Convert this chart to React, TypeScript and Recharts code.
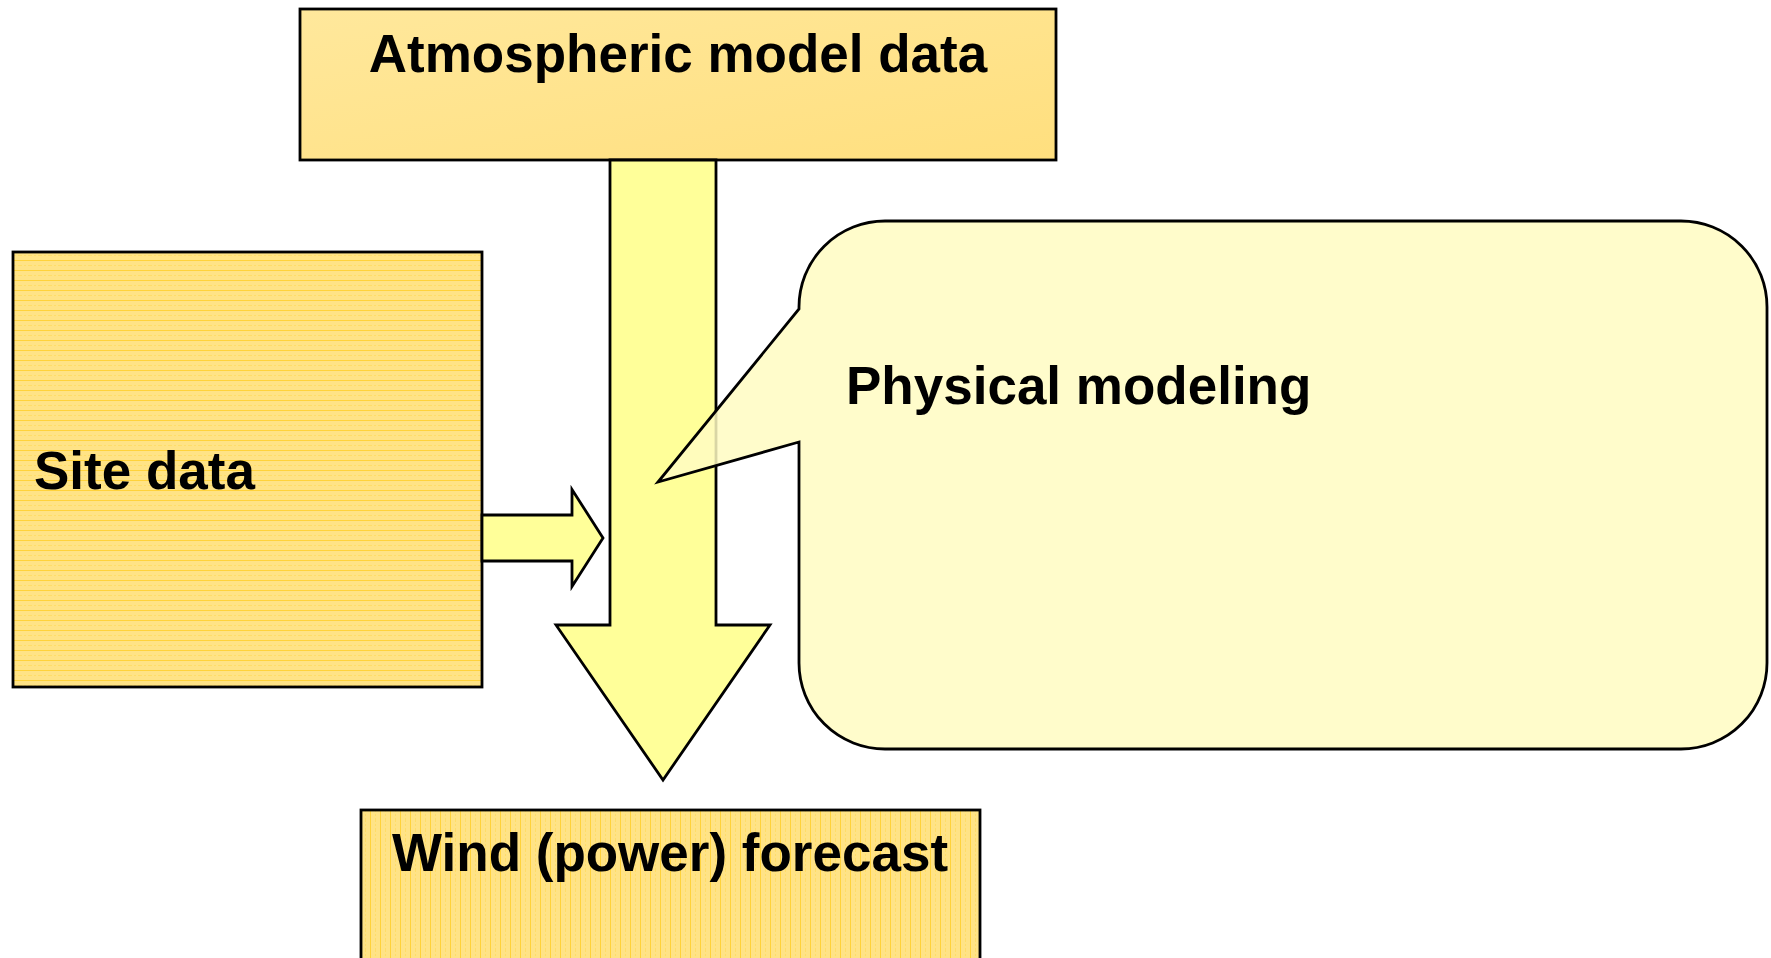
import React from 'react';
import { ComposedChart, XAxis, YAxis, ReferenceArea, Scatter } from 'recharts';

// Flow diagram drawn on a hidden 1771 x 958 number grid (y runs downward).
const WIDTH = 1771;
const HEIGHT = 958;

// boxes
const boxNames = ['top', 'site', 'forecast'];
const boxX1 = [300, 13, 361];
const boxX2 = [1056, 482, 980];
const boxY1 = [9, 252, 810];
const boxY2 = [160, 687, 1000]; // forecast box runs off the page

// arrows: tail point, head tip, shaft width, head width, head length
const arrowNames = ['down', 'right'];
const arrowFromX = [663, 482];
const arrowFromY = [160, 538];
const arrowToX = [663, 603];
const arrowToY = [780, 538];
const arrowShaft = [106, 46];
const arrowHead = [214, 97];
const arrowHeadLen = [155, 31];

// callout: rounded body plus the pointer tail
const calloutX1 = 799;
const calloutX2 = 1767;
const calloutY1 = 221;
const calloutY2 = 749;
const calloutRadius = 86;
const tailTopY = 309;
const tailBottomY = 442;
const tailTipX = 658;
const tailTipY = 482;

// labels
const labelTexts = ['Atmospheric model data', 'Site data', 'Physical modeling', 'Wind (power) forecast'];
const labelX = [678, 34, 846, 670];
const labelY = [72, 489, 404, 871];
const labelAnchor = ['middle', 'start', 'start', 'middle'];

const labels = labelTexts.map((text, i) => ({ x: labelX[i], y: labelY[i], text, anchor: labelAnchor[i] }));

const boxFill: Record<string, string> = {
  top: 'url(#grad-top)',
  site: 'url(#stripe-h)',
  forecast: 'url(#stripe-v)',
};

const FONT = '"Liberation Sans", Arial, Helvetica, sans-serif';
const STROKE = 2.8;

// map data units inside a reference area to pixels
function mapper(p: any, bx1: number, bx2: number, by1: number, by2: number) {
  const sx = p.width / (bx2 - bx1);
  const sy = p.height / (by2 - by1);
  return {
    x: (v: number) => p.x + (v - bx1) * sx,
    y: (v: number) => p.y + (v - by1) * sy,
    sx,
    sy,
  };
}

function Defs() {
  return (
    <defs>
      <linearGradient id="grad-top" x1="0" y1="0" x2="1" y2="1">
        <stop offset="0%" stopColor="#FFE89C" />
        <stop offset="100%" stopColor="#FFDF7E" />
      </linearGradient>
      <pattern id="stripe-h" width="10" height="10" patternUnits="userSpaceOnUse">
        <rect width="10" height="10" fill="#FFE386" />
        <line x1="0" y1="0.5" x2="10" y2="0.5" stroke="#FFCF26" strokeWidth={1} opacity={0.8} />
        <line x1="0" y1="5.5" x2="10" y2="5.5" stroke="#FFD84A" strokeWidth={1} strokeDasharray="2 2" opacity={0.5} />
      </pattern>
      <pattern id="stripe-v" width="10" height="10" patternUnits="userSpaceOnUse">
        <rect width="10" height="10" fill="#FFE386" />
        <line x1="0.5" y1="0" x2="0.5" y2="10" stroke="#FFCF26" strokeWidth={1} opacity={0.8} />
        <line x1="5.5" y1="0" x2="5.5" y2="10" stroke="#FFD84A" strokeWidth={1} strokeDasharray="2 2" opacity={0.5} />
      </pattern>
    </defs>
  );
}

function arrowBounds(i: number) {
  const vertical = arrowFromX[i] === arrowToX[i];
  const half = arrowHead[i] / 2;
  if (vertical) {
    return { x1: arrowFromX[i] - half, x2: arrowFromX[i] + half, y1: arrowFromY[i], y2: arrowToY[i] };
  }
  return { x1: arrowFromX[i], x2: arrowToX[i], y1: arrowFromY[i] - half, y2: arrowFromY[i] + half };
}

function arrowShape(i: number) {
  const b = arrowBounds(i);
  return (p: any) => {
    const m = mapper(p, b.x1, b.x2, b.y1, b.y2);
    const vertical = arrowFromX[i] === arrowToX[i];
    const hs = arrowShaft[i] / 2;
    const hh = arrowHead[i] / 2;
    let pts: [number, number][];
    if (vertical) {
      const cx = arrowFromX[i];
      const base = arrowToY[i] - arrowHeadLen[i];
      pts = [
        [cx - hs, arrowFromY[i]], [cx + hs, arrowFromY[i]], [cx + hs, base], [cx + hh, base],
        [cx, arrowToY[i]], [cx - hh, base], [cx - hs, base],
      ];
    } else {
      const cy = arrowFromY[i];
      const base = arrowToX[i] - arrowHeadLen[i];
      pts = [
        [arrowFromX[i], cy - hs], [base, cy - hs], [base, cy - hh], [arrowToX[i], cy],
        [base, cy + hh], [base, cy + hs], [arrowFromX[i], cy + hs],
      ];
    }
    const d = pts.map(([x, y]) => `${m.x(x)},${m.y(y)}`).join(' ');
    return <polygon points={d} fill="#FFFF99" stroke="#000" strokeWidth={STROKE} strokeLinejoin="miter" />;
  };
}

function boxShape(i: number) {
  return (p: any) => (
    <g>
      {i === 1 && <Defs />}
      <rect x={p.x} y={p.y} width={p.width} height={p.height} fill={boxFill[boxNames[i]]} stroke="#000" strokeWidth={STROKE} />
    </g>
  );
}

function calloutShape(p: any) {
  const m = mapper(p, tailTipX, calloutX2, calloutY1, calloutY2);
  const r = calloutRadius * m.sx;
  const L = m.x(calloutX1);
  const R = m.x(calloutX2);
  const T = m.y(calloutY1);
  const B = m.y(calloutY2);
  const d = [
    `M ${L} ${m.y(tailTopY)}`,
    `L ${L} ${T + r}`,
    `A ${r} ${r} 0 0 1 ${L + r} ${T}`,
    `L ${R - r} ${T}`,
    `A ${r} ${r} 0 0 1 ${R} ${T + r}`,
    `L ${R} ${B - r}`,
    `A ${r} ${r} 0 0 1 ${R - r} ${B}`,
    `L ${L + r} ${B}`,
    `A ${r} ${r} 0 0 1 ${L} ${B - r}`,
    `L ${L} ${m.y(tailBottomY)}`,
    `L ${m.x(tailTipX)} ${m.y(tailTipY)}`,
    'Z',
  ].join(' ');
  return <path d={d} fill="#FFFCC2" fillOpacity={0.85} stroke="#000" strokeWidth={STROKE} strokeLinejoin="miter" />;
}

function LabelText(props: any) {
  const { cx, cy, payload } = props;
  return (
    <text x={cx} y={cy} textAnchor={payload.anchor} fontFamily={FONT} fontWeight="bold" fontSize={53} fill="#000">
      {payload.text}
    </text>
  );
}

export default function App() {
  const boxOrder = [1, 0];
  return (
    <div style={{ width: WIDTH, height: HEIGHT, background: '#fff' }}>
      <style>{'body{margin:0;overflow:hidden}'}</style>
      <ComposedChart width={WIDTH} height={HEIGHT} margin={{ top: 0, right: 0, bottom: 0, left: 0 }}>
        <XAxis type="number" dataKey="x" domain={[0, WIDTH]} hide allowDataOverflow />
        <YAxis type="number" dataKey="y" domain={[0, HEIGHT]} reversed hide allowDataOverflow />
        {boxOrder.map((i) => (
          <ReferenceArea
            key={boxNames[i]}
            x1={boxX1[i]}
            x2={boxX2[i]}
            y1={boxY1[i]}
            y2={boxY2[i]}
            ifOverflow="visible"
            shape={boxShape(i)}
          />
        ))}
        {arrowNames.map((name, i) => {
          const b = arrowBounds(i);
          return (
            <ReferenceArea key={name} x1={b.x1} x2={b.x2} y1={b.y1} y2={b.y2} ifOverflow="visible" shape={arrowShape(i)} />
          );
        })}
        <ReferenceArea
          x1={tailTipX}
          x2={calloutX2}
          y1={calloutY1}
          y2={calloutY2}
          ifOverflow="visible"
          shape={calloutShape}
        />
        <ReferenceArea
          x1={boxX1[2]}
          x2={boxX2[2]}
          y1={boxY1[2]}
          y2={boxY2[2]}
          ifOverflow="visible"
          shape={boxShape(2)}
        />
        <Scatter data={labels} shape={LabelText} isAnimationActive={false} />
      </ComposedChart>
    </div>
  );
}
